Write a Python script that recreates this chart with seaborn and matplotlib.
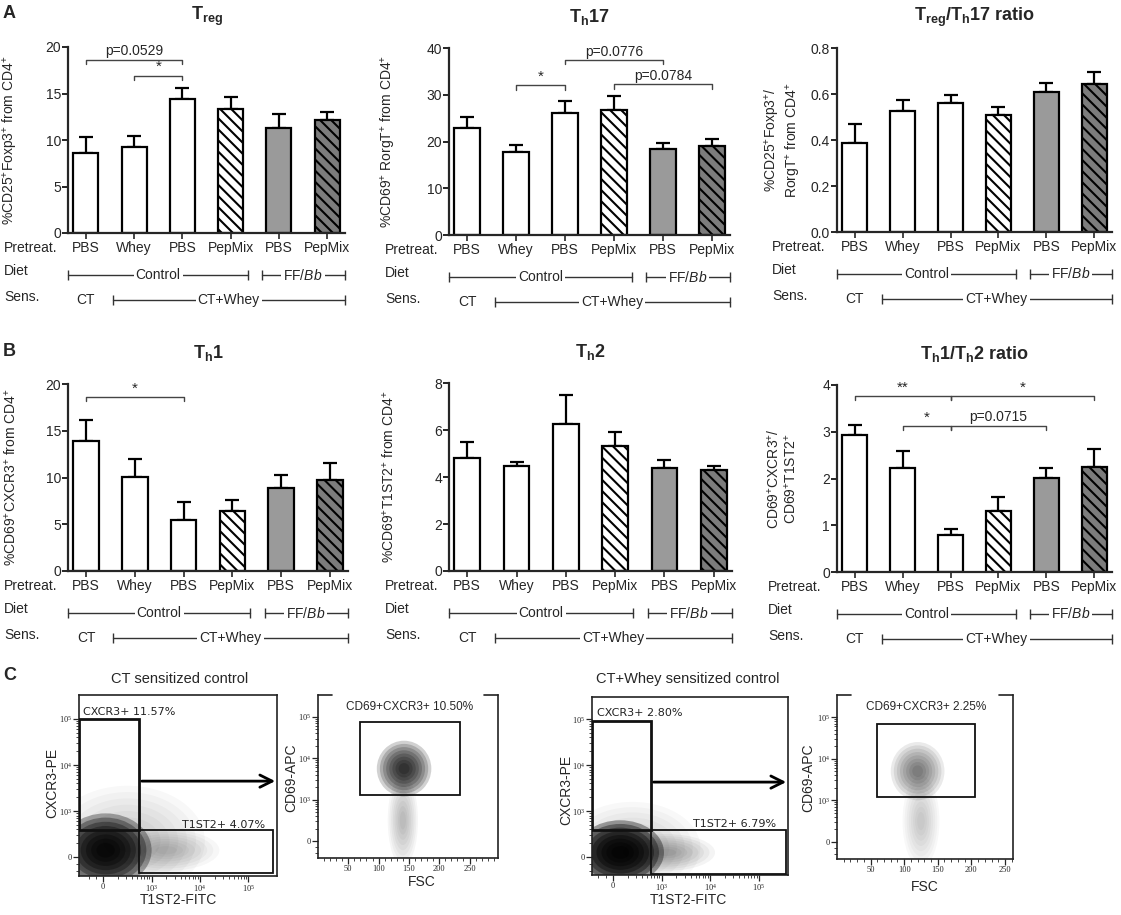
import numpy as np
import pandas as pd
import matplotlib
matplotlib.use("Agg")
import matplotlib.pyplot as plt
import matplotlib.transforms as mtrans
from matplotlib.patches import Rectangle, Ellipse
from matplotlib.ticker import FormatStrFormatter
import seaborn as sns

W, H = 1121, 915

# groups (same order in every bar panel)
groups = ["CT/PBS", "CT+Whey/Whey", "CT+Whey/PBS", "CT+Whey/PepMix", "FF/Bb/PBS", "FF/Bb/PepMix"]
pretreat = ["PBS", "Whey", "PBS", "PepMix", "PBS", "PepMix"]
fills = ["white", "white", "white", "white", "#9a9a9a", "#7c7c7c"]
hatches = [None, None, None, "\\\\\\", None, "\\\\\\"]

# values (mean, SEM)
treg_mean = [8.6, 9.3, 14.4, 13.3, 11.3, 12.1]
treg_sem = [1.7, 1.1, 1.2, 1.3, 1.5, 0.95]
th17_mean = [22.8, 17.8, 26.2, 26.7, 18.3, 19.1]
th17_sem = [2.5, 1.4, 2.5, 3.0, 1.4, 1.4]
ratio17_mean = [0.385, 0.525, 0.56, 0.51, 0.61, 0.645]
ratio17_sem = [0.085, 0.05, 0.037, 0.035, 0.04, 0.05]
th1_mean = [13.9, 10.1, 5.45, 6.4, 8.85, 9.75]
th1_sem = [2.25, 1.85, 1.9, 1.2, 1.4, 1.8]
th2_mean = [4.8, 4.47, 6.26, 5.3, 4.4, 4.3]
th2_sem = [0.7, 0.16, 1.22, 0.6, 0.33, 0.17]
ratio12_mean = [2.93, 2.22, 0.79, 1.31, 2.01, 2.24]
ratio12_sem = [0.22, 0.37, 0.12, 0.29, 0.22, 0.39]

# significance brackets: (bar i, bar j, height, label)
treg_sig = [(0, 2, 18.6, "p=0.0529"), (1, 2, 16.9, "*")]
th17_sig = [(1, 2, 32.0, "*"), (2, 4, 37.4, "p=0.0776"), (3, 5, 32.2, "p=0.0784")]
ratio17_sig = []
th1_sig = [(0, 2, 18.6, "*")]
th2_sig = []
ratio12_sig = [(0, 2, 3.76, "**"), (2, 5, 3.76, "*"), (1, 2, 3.12, "*"), (2, 4, 3.12, "p=0.0715")]

# flow cytometry gates (x0, y0, x1, y1) and gate labels
ct_gates = [(-0.49, 0.59, 0.74, 3.0), (0.74, -0.35, 3.5, 0.59)]
ct_labels = [(-0.42, 3.15, "CXCR3+ 11.57%"), (1.63, 0.70, "T1ST2+ 4.07%")]
whey_gates = [(-0.42, 0.59, 0.78, 2.96), (0.78, -0.37, 3.55, 0.59)]
whey_labels = [(-0.33, 3.13, "CXCR3+ 2.80%"), (1.65, 0.72, "T1ST2+ 6.79%")]
ct_cd69_gate = (70, 1.11, 235, 2.88)
ct_cd69_label = "CD69+CXCR3+ 10.50%"
whey_cd69_gate = (59, 1.09, 205, 2.83)
whey_cd69_label = "CD69+CXCR3+ 2.25%"

# event clouds drawn as shaded areas: (cx, cy, width, height, peak darkness)
ct_cloud = [(0.5, 0.35, 3.2, 2.4, 0.2), (1.3, 0.15, 2.2, 0.9, 0.22),
            (0.05, 0.15, 1.9, 1.6, 0.95)]
whey_cloud = [(0.4, 0.2, 2.8, 2.0, 0.2), (1.1, 0.1, 2.0, 0.8, 0.3),
              (0.15, 0.1, 1.8, 1.4, 0.97)]
ct_cd69_cloud = [(140, 0.5, 50, 2.2, 0.25), (142, 1.75, 90, 1.35, 0.8)]
whey_cd69_cloud = [(125, 0.5, 55, 2.2, 0.2), (120, 1.7, 80, 1.4, 0.5)]

sns.set_style("ticks")
plt.rcParams["font.family"] = ["Liberation Sans", "DejaVu Sans"]
plt.rcParams["mathtext.fontset"] = "custom"
plt.rcParams["mathtext.rm"] = "Liberation Sans"
plt.rcParams["mathtext.it"] = "Liberation Sans:italic"
plt.rcParams["mathtext.bf"] = "Liberation Sans:bold"
plt.rcParams["mathtext.default"] = "regular"
plt.rcParams["hatch.linewidth"] = 1.5
plt.rcParams["hatch.color"] = "black"

fig = plt.figure(figsize=(W / 100, H / 100), dpi=100)


def px_axes(l, t, r, b):
    return fig.add_axes([l / W, 1 - b / H, (r - l) / W, (b - t) / H])


def ftext(x, y, s, **kw):
    return fig.text(x / W, 1 - y / H, s, **kw)


def below(ax, dy):
    base = mtrans.blended_transform_factory(ax.transData, ax.transAxes)
    return base + mtrans.ScaledTranslation(0, -dy / 100, fig.dpi_scale_trans)


XL = (-0.37, 5.37)


def bar_panel(box, mean, sem, ymax, step, fmt, ylabel, ylab_x, title, sig, col_x):
    ax = px_axes(*box)
    df = pd.DataFrame({"group": groups, "value": mean})
    sns.barplot(data=df, x="group", y="value", hue="group", palette=fills,
                saturation=1, width=0.52, edgecolor="black", linewidth=1.6,
                legend=False, ax=ax)
    for patch, h in zip(ax.patches, hatches):
        if h:
            patch.set_hatch(h)
    ax.errorbar(range(len(mean)), mean, yerr=[np.zeros(len(sem)), sem], fmt="none",
                ecolor="black", elinewidth=1.6, capsize=5, capthick=1.6, zorder=0.5)
    ax.set_xlim(*XL)
    ax.set_ylim(0, ymax)
    ax.set_yticks(np.arange(0, ymax + step / 2, step))
    ax.yaxis.set_major_formatter(FormatStrFormatter(fmt))
    ax.set_xticks(range(len(mean)), [""] * len(mean))
    ax.set_xlabel("")
    ax.set_ylabel(ylabel, fontsize=10, va="center", ha="center", linespacing=1.1)
    ax.yaxis.set_label_coords(ylab_x / W, 1 - (box[1] + box[3]) / 2 / H, transform=fig.transFigure)
    ax.tick_params(axis="y", direction="out", length=4, width=1.4, labelsize=10, pad=1)
    ax.tick_params(axis="x", direction="out", length=4, width=1.2)
    sns.despine(ax=ax)
    for s in ["left", "bottom"]:
        ax.spines[s].set_linewidth(1.6)
    ftext((box[0] + box[2]) / 2, box[1] - 31, title, fontsize=13, ha="center", va="center")

    drop = ymax * 0.022
    for i, j, y, lab in sig:
        ax.plot([i, i, j, j], [y - drop, y, y, y - drop], color="#444444", lw=1, clip_on=False)
        ax.text((i + j) / 2, y + drop * 0.4, lab, ha="center", va="bottom",
                fontsize=10 if lab.startswith("p") else 11)

    # group annotation rows below the axis
    b = box[3]
    for k, lab in enumerate(pretreat):
        ax.text(k, 0, lab, transform=below(ax, 15), ha="center", va="center", fontsize=10)
    ftext(col_x, b + 15, "Pretreat.", fontsize=10, va="center")
    ftext(col_x, b + 38, "Diet", fontsize=10, va="center")
    ftext(col_x, b + 64, "Sens.", fontsize=10, va="center")
    lk = dict(color="#333333", lw=1, marker="|", markersize=7, mew=1, clip_on=False)
    ax.plot([XL[0], 3.37], [0, 0], transform=below(ax, 42), **lk)
    ax.plot([3.66, XL[1]], [0, 0], transform=below(ax, 42), **lk)
    ax.plot([0.56, XL[1]], [0, 0], transform=below(ax, 67), **lk)
    bb = dict(facecolor="white", edgecolor="none", pad=1.5)
    ax.text(1.5, 0, "Control", transform=below(ax, 42), ha="center", va="center", fontsize=10, bbox=bb)
    ax.text(4.5, 0, r"FF/$\mathit{Bb}$", transform=below(ax, 42), ha="center", va="center", fontsize=10, bbox=bb)
    ax.text(0, 0, "CT", transform=below(ax, 67), ha="center", va="center", fontsize=10)
    ax.text(2.96, 0, "CT+Whey", transform=below(ax, 67), ha="center", va="center", fontsize=10, bbox=bb)
    return ax


bar_panel((68, 47, 345, 233), treg_mean, treg_sem, 20, 5, "%d",
          r"%CD25$^{+}$Foxp3$^{+}$ from CD4$^{+}$", 11, r"$\mathbf{T_{reg}}$", treg_sig, 4)
bar_panel((449, 48, 730, 235), th17_mean, th17_sem, 40, 10, "%d",
          r"%CD69$^{+}$ RorgT$^{+}$ from CD4$^{+}$", 389, r"$\mathbf{T_h17}$", th17_sig, 385)
bar_panel((837, 48, 1112, 232), ratio17_mean, ratio17_sem, 0.8, 0.2, "%.1f",
          "%CD25$^{+}$Foxp3$^{+}$/\nRorgT$^{+}$ from CD4$^{+}$", 783,
          r"$\mathbf{T_{reg}/T_h17\ ratio}$", ratio17_sig, 772)
bar_panel((68, 384, 348, 571), th1_mean, th1_sem, 20, 5, "%d",
          r"%CD69$^{+}$CXCR3$^{+}$ from CD4$^{+}$", 11, r"$\mathbf{T_h1}$", th1_sig, 4)
bar_panel((449, 383, 732, 571), th2_mean, th2_sem, 8, 2, "%d",
          r"%CD69$^{+}$T1ST2$^{+}$ from CD4$^{+}$", 389, r"$\mathbf{T_h2}$", th2_sig, 385)
bar_panel((837, 385, 1112, 572), ratio12_mean, ratio12_sem, 4, 1, "%d",
          "CD69$^{+}$CXCR3$^{+}$/\nCD69$^{+}$T1ST2$^{+}$", 782,
          r"$\mathbf{T_h1/T_h2\ ratio}$", ratio12_sig, 768)

ftext(3, 14, "A", fontsize=13, fontweight="bold", va="center")
ftext(3, 352, "B", fontsize=13, fontweight="bold", va="center")
ftext(3, 675, "C", fontsize=13, fontweight="bold", va="center")

# ---- panel C: flow cytometry plots
dec_ticks = [0, 1, 2, 3]
dec_labels = ["0", "10$^3$", "10$^4$", "10$^5$"]
dec_minor = [d + np.log10(k) for d in range(3) for k in range(2, 10)] + [-0.3, -0.15]


def flow_style(ax, xlim, ylim):
    ax.set_xlim(*xlim)
    ax.set_ylim(*ylim)
    ax.set_facecolor("white")
    ax.set_yticks(dec_ticks, dec_labels)
    ax.set_yticks([m for m in dec_minor if ylim[0] < m < ylim[1]], minor=True)
    ax.tick_params(which="major", direction="out", length=4, width=0.9, labelsize=6, pad=1,
                   labelfontfamily="Liberation Serif")
    ax.tick_params(which="minor", direction="out", length=2, width=0.6)
    for s in ax.spines.values():
        s.set_linewidth(1.2)
        s.set_color("#222222")


def draw_cloud(ax, cloud, n=8):
    # concentric translucent layers give a soft density look
    for cx, cy, w, h, a in cloud:
        la = 1 - (1 - min(a, 0.97)) ** (1 / n)
        for s in np.linspace(1, 0.2, n):
            ax.add_patch(Ellipse((cx, cy), w * s, h * s, facecolor="black",
                                 edgecolor="none", alpha=la, zorder=1))


def dot_plot(box, xlim, ylim, cloud, gates, labels, arrow_y):
    ax = px_axes(*box)
    flow_style(ax, xlim, ylim)
    ax.set_xticks(dec_ticks, dec_labels)
    ax.set_xticks([m for m in dec_minor if xlim[0] < m < xlim[1]], minor=True)
    draw_cloud(ax, cloud)
    for k, (x0, y0, x1, y1) in enumerate(gates):
        ax.add_patch(Rectangle((x0, y0), x1 - x0, y1 - y0, fill=False, edgecolor="#111111",
                               lw=2.0 if k == 0 else 1.3, zorder=3))
    for x, y, s in labels:
        ax.text(x, y, s, fontsize=8, family="DejaVu Sans", va="center", color="#222222", zorder=4)
    ax.annotate("", xy=(xlim[1] + 0.02, arrow_y), xytext=(gates[0][2], arrow_y),
                arrowprops=dict(arrowstyle="->", lw=2, mutation_scale=22, color="black"),
                annotation_clip=False, zorder=5)
    return ax


def cd69_plot(box, xlim, ylim, cloud, gate, label):
    ax = px_axes(*box)
    flow_style(ax, xlim, ylim)
    ax.set_xticks([50, 100, 150, 200, 250])
    ax.set_xticks(np.arange(10, xlim[1], 10), minor=True)
    ax.spines["top"].set_visible(False)
    for xs in ([0, 0.08], [0.92, 1]):
        ax.plot(xs, [1, 1], transform=ax.transAxes, color="#222222", lw=1.2, clip_on=False)
    draw_cloud(ax, cloud)
    x0, y0, x1, y1 = gate
    ax.add_patch(Rectangle((x0, y0), x1 - x0, y1 - y0, fill=False, edgecolor="#111111", lw=1.3, zorder=3))
    ax.text((xlim[0] + xlim[1]) / 2 + 2, 3.24, label, fontsize=8.5, ha="center", va="center")
    return ax


dot_plot((79, 695, 277, 876), (-0.5, 3.59), (-0.41, 3.52), ct_cloud, ct_gates, ct_labels, 1.65)
cd69_plot((318, 695, 498, 858), (0, 297), (-0.41, 3.53), ct_cd69_cloud, ct_cd69_gate, ct_cd69_label)
dot_plot((592, 697, 788, 875), (-0.43, 3.6), (-0.39, 3.48), whey_cloud, whey_gates, whey_labels, 1.63)
cd69_plot((837, 695, 1013, 859), (0, 262), (-0.41, 3.53), whey_cd69_cloud, whey_cd69_gate, whey_cd69_label)

ftext(180, 679, "CT sensitized control", fontsize=10.5, ha="center", va="center")
ftext(688, 679, "CT+Whey sensitized control", fontsize=10.5, ha="center", va="center")
for x, y in [(52, 783), (566, 790)]:
    ftext(x, y, "CXCR3-PE", fontsize=10, rotation=90, ha="center", va="center")
for x, y in [(291, 778), (808, 778)]:
    ftext(x, y, "CD69-APC", fontsize=10, rotation=90, ha="center", va="center")
for x, y in [(178, 900), (688, 900)]:
    ftext(x, y, "T1ST2-FITC", fontsize=10, ha="center", va="center")
for x, y in [(422, 882), (925, 887)]:
    ftext(x, y, "FSC", fontsize=10, ha="center", va="center")

fig.savefig("out.png", dpi=100)
